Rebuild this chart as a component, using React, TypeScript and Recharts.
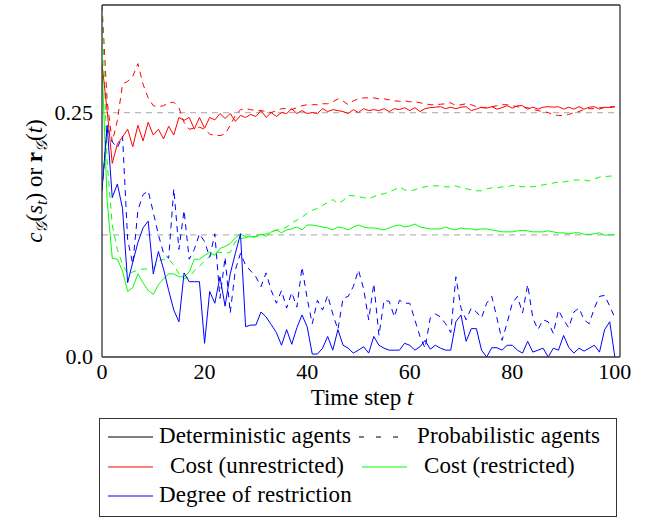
import React from 'react';
import { LineChart, Line, XAxis, YAxis, ReferenceLine } from 'recharts';

const timeSteps = [
  0, 1, 2, 3, 4, 5, 6, 7, 8, 9, 10, 11, 12, 13, 14, 15, 16, 17, 18, 19,
  20, 21, 22, 23, 24, 25, 26, 27, 28, 29, 30, 31, 32, 33, 34, 35, 36, 37, 38, 39,
  40, 41, 42, 43, 44, 45, 46, 47, 48, 49, 50, 51, 52, 53, 54, 55, 56, 57, 58, 59,
  60, 61, 62, 63, 64, 65, 66, 67, 68, 69, 70, 71, 72, 73, 74, 75, 76, 77, 78, 79,
  80, 81, 82, 83, 84, 85, 86, 87, 88, 89, 90, 91, 92, 93, 94, 95, 96, 97, 98, 99, 100,
];

const xTicks = [0, 20, 40, 60, 80, 100];
const yTicks = [0, 0.25];
const refLevels = [0.25, 0.125];

// Cost (unrestricted) – deterministic agents
const costUnrestrictedDet = [
  0.300, 0.252, 0.198, 0.218, 0.225, 0.233, 0.215, 0.237, 0.221, 0.240,
  0.227, 0.233, 0.223, 0.236, 0.227, 0.245, 0.242, 0.245, 0.233, 0.245,
  0.234, 0.245, 0.2425, 0.249, 0.244, 0.249, 0.241, 0.247, 0.245, 0.248,
  0.246, 0.252, 0.245, 0.250, 0.246, 0.250, 0.249, 0.254, 0.249, 0.252,
  0.249, 0.250, 0.249, 0.254, 0.251, 0.253, 0.252, 0.251, 0.249, 0.253,
  0.250, 0.254, 0.252, 0.253, 0.252, 0.254, 0.251, 0.254, 0.253, 0.255,
  0.252, 0.255, 0.251, 0.254, 0.255, 0.2555, 0.256, 0.254, 0.2555, 0.254,
  0.2555, 0.256, 0.252, 0.2535, 0.2555, 0.2545, 0.256, 0.2535, 0.255, 0.257,
  0.2545, 0.257, 0.257, 0.2535, 0.2555, 0.2535, 0.2555, 0.256, 0.2555, 0.256,
  0.2535, 0.2555, 0.2535, 0.256, 0.2535, 0.2555, 0.256, 0.2535, 0.2555, 0.255, 0.256,
];

// Cost (unrestricted) – probabilistic agents
const costUnrestrictedProb = [
  0.360, 0.262, 0.220, 0.242, 0.279, 0.282, 0.287, 0.300, 0.279, 0.265,
  0.257, 0.256, 0.257, 0.260, 0.2605, 0.255, 0.240, 0.233, 0.234, 0.235,
  0.233, 0.228, 0.2265, 0.2265, 0.228, 0.237, 0.247, 0.253, 0.254, 0.253,
  0.252, 0.252, 0.251, 0.250, 0.252, 0.254, 0.254, 0.253, 0.255, 0.257,
  0.258, 0.258, 0.258, 0.259, 0.259, 0.261, 0.264, 0.262, 0.258, 0.262,
  0.264, 0.265, 0.265, 0.265, 0.264, 0.264, 0.263, 0.262, 0.2615, 0.262,
  0.261, 0.261, 0.260, 0.259, 0.258, 0.258, 0.2585, 0.259, 0.260, 0.257,
  0.258, 0.259, 0.258, 0.256, 0.255, 0.255, 0.256, 0.257, 0.258, 0.258,
  0.257, 0.256, 0.255, 0.255, 0.253, 0.252, 0.251, 0.250, 0.248, 0.247,
  0.247, 0.248, 0.250, 0.251, 0.253, 0.254, 0.254, 0.255, 0.255, 0.256, 0.256,
];

// Cost (restricted) – deterministic agents
const costRestrictedDet = [
  0.300, 0.160, 0.101, 0.100, 0.088, 0.067, 0.071, 0.085, 0.076, 0.068,
  0.064, 0.074, 0.080, 0.085, 0.085, 0.082, 0.082, 0.087, 0.100, 0.100,
  0.104, 0.107, 0.104, 0.111, 0.113, 0.116, 0.122, 0.126, 0.123, 0.123,
  0.1235, 0.1255, 0.1235, 0.128, 0.130, 0.127, 0.130, 0.131, 0.133, 0.130,
  0.135, 0.135, 0.134, 0.133, 0.132, 0.130, 0.133, 0.132, 0.130, 0.133,
  0.135, 0.133, 0.132, 0.132, 0.131, 0.130, 0.132, 0.134, 0.135, 0.133,
  0.134, 0.136, 0.133, 0.132, 0.131, 0.131, 0.131, 0.133, 0.131, 0.130,
  0.132, 0.131, 0.131, 0.130, 0.131, 0.131, 0.130, 0.129, 0.128, 0.128,
  0.128, 0.129, 0.1295, 0.129, 0.128, 0.128, 0.128, 0.129, 0.128, 0.127,
  0.127, 0.126, 0.127, 0.127, 0.1255, 0.1255, 0.126, 0.127, 0.1245, 0.125, 0.125,
];

// Cost (restricted) – probabilistic agents
const costRestrictedProb = [
  0.360, 0.200, 0.135, 0.110, 0.095, 0.085, 0.087, 0.089, 0.090, 0.090,
  0.091, 0.098, 0.100, 0.100, 0.094, 0.085, 0.080, 0.082, 0.088, 0.093,
  0.098, 0.103, 0.107, 0.107, 0.106, 0.107, 0.118, 0.121, 0.122, 0.122,
  0.123, 0.1245, 0.126, 0.128, 0.1296, 0.131, 0.133, 0.137, 0.140, 0.143,
  0.147, 0.150, 0.152, 0.155, 0.158, 0.161, 0.157, 0.160, 0.165, 0.165,
  0.164, 0.163, 0.162, 0.164, 0.166, 0.167, 0.169, 0.171, 0.174, 0.171,
  0.170, 0.171, 0.173, 0.174, 0.175, 0.175, 0.175, 0.174, 0.174, 0.175,
  0.173, 0.172, 0.171, 0.170, 0.170, 0.172, 0.173, 0.173, 0.174, 0.174,
  0.1755, 0.175, 0.174, 0.1745, 0.174, 0.175, 0.176, 0.177, 0.178, 0.179,
  0.179, 0.180, 0.181, 0.181, 0.181, 0.180, 0.182, 0.184, 0.1845, 0.185, 0.185,
];

// Degree of restriction – deterministic agents
const restrictionDet = [
  0.170, 0.237, 0.163, 0.177, 0.152, 0.076, 0.097, 0.117, 0.132, 0.139,
  0.085, 0.108, 0.090, 0.068, 0.048, 0.036, 0.086, 0.077, 0.077, 0.077,
  0.014, 0.067, 0.055, 0.082, 0.052, 0.085, 0.106, 0.126, 0.031, 0.0327,
  0.0327, 0.046, 0.041, 0.033, 0.025, 0.012, 0.028, 0.013, 0.030, 0.043,
  0.031, 0.003, 0.003, 0.009, 0.021, 0.007, 0.028, 0.012, 0.009, 0.004,
  0.007, 0.0105, 0.004, 0.021, 0.012, 0.009, 0.007, 0.007, 0.007, 0.014,
  0.012, 0.007, 0.0105, 0.017, 0.008, 0.012, 0.009, 0.007, 0.007, 0.036,
  0.043, 0.016, 0.029, 0.029, 0.007, 0.000, 0.0095, 0.0095, 0.007, 0.012,
  0.012, 0.007, 0.004, 0.016, 0.005, 0.007, 0.009, 0.000, 0.009, 0.007,
  0.022, 0.010, 0.004, 0.009, 0.006, 0.009, 0.012, 0.005, 0.028, 0.036, 0.000,
];

// Degree of restriction – probabilistic agents
const restrictionProb = [
  0.170, 0.235, 0.220, 0.214, 0.226, 0.120, 0.095, 0.150, 0.166, 0.170,
  0.148, 0.125, 0.106, 0.101, 0.172, 0.110, 0.150, 0.100, 0.110, 0.126,
  0.118, 0.102, 0.126, 0.060, 0.102, 0.045, 0.089, 0.106, 0.094, 0.088,
  0.082, 0.072, 0.086, 0.068, 0.055, 0.068, 0.050, 0.066, 0.051, 0.092,
  0.060, 0.034, 0.058, 0.048, 0.063, 0.044, 0.028, 0.060, 0.062, 0.072,
  0.089, 0.070, 0.038, 0.075, 0.022, 0.058, 0.057, 0.041, 0.058, 0.055,
  0.055, 0.038, 0.021, 0.009, 0.040, 0.044, 0.041, 0.034, 0.025, 0.082,
  0.050, 0.038, 0.050, 0.046, 0.040, 0.055, 0.062, 0.040, 0.017, 0.035,
  0.055, 0.062, 0.045, 0.074, 0.040, 0.028, 0.038, 0.036, 0.024, 0.048,
  0.038, 0.030, 0.046, 0.050, 0.038, 0.034, 0.050, 0.062, 0.063, 0.052, 0.040,
];

const FONT = 'Liberation Serif';
const RED = '#ff0000';
const GREEN = '#00ff00';
const BLUE = '#0000ff';
const DASH = '6 5';

const XTick = (props: any) => {
  const { x, y, payload } = props;
  return (
    <text x={x} y={y + 15} textAnchor="middle" fontFamily={FONT} fontSize={22} fill="#000" style={{ fontFamily: FONT }}>
      {String(payload.value)}
    </text>
  );
};

const YTick = (props: any) => {
  const { x, y, payload } = props;
  const label = payload.value === 0 ? '0.0' : String(payload.value);
  return (
    <text x={x} y={y + 7} textAnchor="end" fontFamily={FONT} fontSize={22} fill="#000" style={{ fontFamily: FONT }}>
      {label}
    </text>
  );
};

export default function App() {
  const data = timeSteps.map((t, i) => ({
    t,
    rd: costUnrestrictedDet[i],
    rp: costUnrestrictedProb[i],
    gd: costRestrictedDet[i],
    gp: costRestrictedProb[i],
    bd: restrictionDet[i],
    bp: restrictionProb[i],
  }));

  const axisStroke = { stroke: '#333', strokeWidth: 1.3 };

  const legendLine = (left: number, top: number, color: string, dash?: string) => (
    <svg style={{ position: 'absolute', left, top: top - 2, overflow: 'visible' }} width={45} height={4}>
      <line x1={0} y1={2} x2={45} y2={2} stroke={color} strokeWidth={1} strokeDasharray={dash} />
    </svg>
  );
  const legendText = (left: number, top: number, text: string) => (
    <div
      style={{
        position: 'absolute',
        left,
        top: top - 14,
        lineHeight: '26px',
        fontSize: 23,
        letterSpacing: '0.12px',
        whiteSpace: 'nowrap',
        fontFamily: FONT,
      }}
    >
      {text}
    </div>
  );

  return (
    <div style={{ position: 'absolute', left: 0, top: 0, width: 659, height: 521, background: '#fff', fontFamily: FONT }}>
      <LineChart width={659} height={521} data={data} margin={{ top: 5, right: 39, left: 0, bottom: 124 }} style={{ fontFamily: FONT }}>
        <XAxis
          dataKey="t"
          type="number"
          domain={[0, 101]}
          ticks={xTicks}
          interval={0}
          allowDataOverflow
          tickLine={false}
          tickSize={6}
          tickMargin={1}
          axisLine={axisStroke}
          tick={<XTick />}
          height={40}
        />
        <XAxis
          xAxisId="bm"
          orientation="bottom"
          mirror
          type="number"
          domain={[0, 101]}
          ticks={[20, 40, 60, 80]}
          interval={0}
          allowDataOverflow
          tick={false}
          tickSize={7}
          tickLine={{ stroke: '#999' }}
          axisLine={false}
        />
        <XAxis
          xAxisId="top"
          orientation="top"
          mirror
          type="number"
          domain={[0, 101]}
          ticks={[20, 40, 60, 80]}
          interval={0}
          allowDataOverflow
          tick={false}
          tickSize={7}
          tickLine={{ stroke: '#999' }}
          axisLine={axisStroke}
        />
        <YAxis
          type="number"
          domain={[0, 0.36]}
          ticks={yTicks}
          interval={0}
          allowDataOverflow
          width={102}
          tickLine={false}
          tickSize={6}
          tickMargin={3}
          axisLine={axisStroke}
          tick={<YTick />}
        />
        <YAxis
          yAxisId="r"
          orientation="right"
          mirror
          type="number"
          domain={[0, 0.36]}
          ticks={[0.25]}
          interval={0}
          allowDataOverflow
          tick={false}
          tickSize={6}
          tickLine={{ stroke: '#999' }}
          axisLine={axisStroke}
        />
        {refLevels.map((v) => (
          <ReferenceLine key={v} y={v} stroke="#b8b8b8" strokeWidth={1.2} strokeDasharray="6 5" />
        ))}
        <Line dataKey="rp" stroke={RED} strokeWidth={1} strokeDasharray={DASH} dot={false} isAnimationActive={false} />
        <Line dataKey="gp" stroke={GREEN} strokeWidth={1} strokeDasharray={DASH} dot={false} isAnimationActive={false} />
        <Line dataKey="bp" stroke={BLUE} strokeWidth={1} strokeDasharray={DASH} dot={false} isAnimationActive={false} />
        <Line dataKey="rd" stroke={RED} strokeWidth={1} dot={false} isAnimationActive={false} />
        <Line dataKey="gd" stroke={GREEN} strokeWidth={1} dot={false} isAnimationActive={false} />
        <Line dataKey="bd" stroke={BLUE} strokeWidth={1} dot={false} isAnimationActive={false} />
      </LineChart>

      <svg style={{ position: 'absolute', left: 0, top: 0, pointerEvents: 'none' }} width={659} height={521}>
        <text x={362} y={405} textAnchor="middle" fontFamily={FONT} fontSize={23} fill="#000">
          Time step <tspan fontStyle="italic">t</tspan>
        </text>
        <text x={42} y={181} transform="rotate(-90 42 181)" textAnchor="middle" fontFamily={FONT} fontSize={23} fill="#000">
          <tspan fontStyle="italic">c</tspan>
          <tspan fontSize={16} dy={5} fontStyle="italic">𝒢</tspan>
          <tspan dy={-5}>(</tspan>
          <tspan fontStyle="italic">s</tspan>
          <tspan fontSize={16} dy={5} fontStyle="italic">t</tspan>
          <tspan dy={-5}>) or </tspan>
          <tspan fontWeight="bold">r</tspan>
          <tspan fontSize={16} dy={5} fontStyle="italic">𝒢</tspan>
          <tspan dy={-5}>(</tspan>
          <tspan fontStyle="italic">t</tspan>
          <tspan>)</tspan>
        </text>
      </svg>

      <div
        style={{
          position: 'absolute',
          left: 99,
          top: 418,
          width: 518,
          height: 99,
          boxSizing: 'border-box',
          border: '1.3px solid #333',
          fontFamily: FONT,
          color: '#000',
        }}
      >
        {legendLine(8, 18, '#000')}
        {legendText(59, 18, 'Deterministic agents')}
        {legendLine(259, 18, '#000', '5 12')}
        {legendText(317, 18, 'Probabilistic agents')}
        {legendLine(8, 48, RED)}
        {legendText(70, 48, 'Cost (unrestricted)')}
        {legendLine(262, 48, GREEN)}
        {legendText(324, 48, 'Cost (restricted)')}
        {legendLine(8, 77, BLUE)}
        {legendText(59, 77, 'Degree of restriction')}
      </div>
    </div>
  );
}
